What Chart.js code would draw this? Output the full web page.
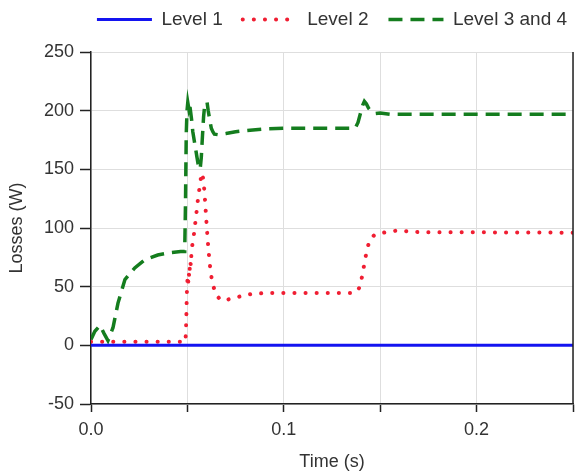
<!DOCTYPE html>
<html>
<head>
<meta charset="utf-8">
<title>Losses</title>
<script src="https://cdn.jsdelivr.net/npm/chart.js"></script>
<style>
  html, body { margin: 0; padding: 0; background: #fff; }
  canvas { display: block; }
</style>
</head>
<body>
<canvas id="lossChart" width="580" height="476"></canvas>
<script>
// time (s) and losses (W) for each level
const level1Time = [0, 0.25];
const level1Loss = [0, 0];

const level2Time = [0, 0.0490, 0.0494, 0.0497, 0.0500, 0.0503, 0.0507, 0.0510, 0.0514, 0.0518, 0.0522,
  0.0527, 0.0535, 0.0545, 0.0555, 0.0566, 0.0574, 0.0582, 0.0589, 0.0596, 0.0603, 0.0610, 0.0617,
  0.0625, 0.0635, 0.0650, 0.0670, 0.0690, 0.0720, 0.0760, 0.0800, 0.0850, 0.0900, 0.1000, 0.1200,
  0.1360, 0.1380, 0.1395, 0.1405, 0.1415, 0.1425, 0.1435, 0.1450, 0.1470, 0.1500, 0.1550, 0.1600,
  0.1650, 0.1700, 0.2500];
const level2Loss = [3, 3, 20, 44, 55, 50, 62, 58, 72, 68, 82,
  87, 96, 110, 125, 138, 147, 142, 130, 112, 95, 80, 68,
  58, 50, 43, 39, 38, 39.5, 41, 43, 44, 44.5, 44.5, 44.5,
  44.5, 46, 50, 58, 67, 76, 84, 91, 94, 95.5, 97, 98,
  97, 96.5, 96];

const level34Time = [0, 0.0020, 0.0047, 0.0068, 0.0088, 0.0114, 0.0140, 0.0176, 0.0227, 0.0280,
  0.0346, 0.0410, 0.0465, 0.0486, 0.0490, 0.0494, 0.0498, 0.0502, 0.0506, 0.0510, 0.0516, 0.0522,
  0.0528, 0.0535, 0.0542, 0.0550, 0.0558, 0.0566, 0.0572, 0.0578, 0.0584, 0.0590, 0.0596, 0.0602,
  0.0608, 0.0616, 0.0624, 0.0632, 0.0640, 0.0660, 0.0700, 0.0750, 0.0800, 0.0900, 0.1000, 0.1200,
  0.1370, 0.1385, 0.1398, 0.1410, 0.1418, 0.1428, 0.1440, 0.1455, 0.1475, 0.1500, 0.1550, 0.2500];
const level34Loss = [5, 12, 17, 10, 4, 15, 36, 56, 66, 73,
  77, 79, 80, 80, 120, 180, 200, 207, 203, 207, 200, 192,
  182, 175, 168, 160, 152, 150, 160, 178, 195, 205, 207, 207,
  200, 192, 185, 182, 180, 179.5, 180.5, 182, 183, 184.5, 185, 185,
  185, 190, 198, 205, 208, 206, 202, 199, 197.5, 198, 197, 197];

const seriesNames = ["Level 1", "Level 2", "Level 3 and 4"];

const toPoints = (xs, ys) => xs.map((x, i) => ({ x: x, y: ys[i] }));

const FONT = "'Liberation Sans', Arial, sans-serif";
const TEXT = "#333333";

// right-hand frame line
const rightFrame = {
  id: "rightFrame",
  afterDraw(chart) {
    const { ctx, chartArea } = chart;
    ctx.save();
    ctx.strokeStyle = "#222";
    ctx.lineWidth = 1.5;
    ctx.beginPath();
    ctx.moveTo(chartArea.right, chartArea.top);
    ctx.lineTo(chartArea.right, chartArea.bottom);
    ctx.stroke();
    ctx.restore();
  },
};

// legend band: fixed height, row centred over the plot area and pulled up a bit
const legendBand = {
  id: "legendBand",
  beforeInit(chart) {
    const fit = chart.legend.fit;
    chart.legend.fit = function () {
      fit.call(this);
      this.height = 52;
    };
  },
  afterLayout(chart) {
    const lg = chart.legend;
    const shift = (chart.chartArea.left + chart.chartArea.right) / 2 - (lg.left + lg.right) / 2;
    lg.left += shift;
    lg.right += shift;
    lg.top -= 10;
    lg.bottom -= 10;
  },
};

const ctx = document.getElementById("lossChart");
new Chart(ctx, {
  type: "line",
  data: {
    datasets: [
      {
        label: seriesNames[0],
        data: toPoints(level1Time, level1Loss),
        borderColor: "rgb(20, 20, 240)",
        backgroundColor: "rgb(20, 20, 240)",
        borderWidth: 3,
        pointStyle: "line",
      },
      {
        label: seriesNames[1],
        data: toPoints(level2Time, level2Loss),
        borderColor: "rgb(240, 30, 50)",
        backgroundColor: "rgb(240, 30, 50)",
        borderWidth: 4,
        borderDash: [0.1, 11],
        borderCapStyle: "round",
        pointStyle: "line",
      },
      {
        label: seriesNames[2],
        data: toPoints(level34Time, level34Loss),
        borderColor: "rgb(20, 125, 30)",
        backgroundColor: "rgb(20, 125, 30)",
        borderWidth: 3.5,
        borderDash: [14, 8],
        pointStyle: "line",
      },
    ],
  },
  options: {
    responsive: false,
    animation: false,
    layout: { padding: { left: 0, right: 7, top: 0, bottom: 0 } },
    elements: {
      point: { radius: 0, hoverRadius: 0 },
      line: { tension: 0, fill: false },
    },
    plugins: {
      tooltip: { enabled: false },
      legend: {
        position: "top",
        labels: {
          usePointStyle: true,
          pointStyleWidth: 55,
          padding: 20,
          color: TEXT,
          font: { family: FONT, size: 19 },
          generateLabels(chart) {
            const items = Chart.defaults.plugins.legend.labels.generateLabels(chart);
            items.forEach((item) => {
              const ds = chart.data.datasets[item.datasetIndex];
              item.strokeStyle = ds.borderColor;
              item.lineWidth = ds.borderWidth;
              item.lineDash = ds.borderDash || [];
              item.lineCap = ds.borderCapStyle || "butt";
            });
            return items;
          },
        },
      },
    },
    scales: {
      x: {
        type: "linear",
        min: 0,
        max: 0.25,
        ticks: {
          stepSize: 0.05,
          autoSkip: false,
          maxRotation: 0,
          padding: 7,
          color: TEXT,
          font: { family: FONT, size: 18 },
          callback: (v) => {
            const t = Math.round(v * 100);
            return t % 10 === 0 ? (t / 100).toFixed(1) : "";
          },
        },
        grid: { color: "#dedede", tickColor: "#222", tickLength: 8, tickWidth: 1.5 },
        border: { color: "#222", width: 1.5 },
        title: {
          display: true,
          text: "Time (s)",
          color: TEXT,
          font: { family: FONT, size: 18 },
          padding: { top: 4, bottom: 3 },
        },
        afterFit: (scale) => {
          scale.height = 72;
        },
      },
      y: {
        min: -50,
        max: 250,
        ticks: {
          stepSize: 50,
          padding: 6,
          color: TEXT,
          font: { family: FONT, size: 18 },
        },
        grid: { color: "#dedede", tickColor: "#222", tickLength: 11, tickWidth: 1.5 },
        border: { color: "#222", width: 1.5 },
        title: {
          display: true,
          text: "Losses (W)",
          color: TEXT,
          font: { family: FONT, size: 18 },
          padding: { top: 6, bottom: 4 },
        },
        afterFit: (scale) => {
          scale.width = 91;
        },
      },
    },
  },
  plugins: [rightFrame, legendBand],
});
</script>
</body>
</html>
